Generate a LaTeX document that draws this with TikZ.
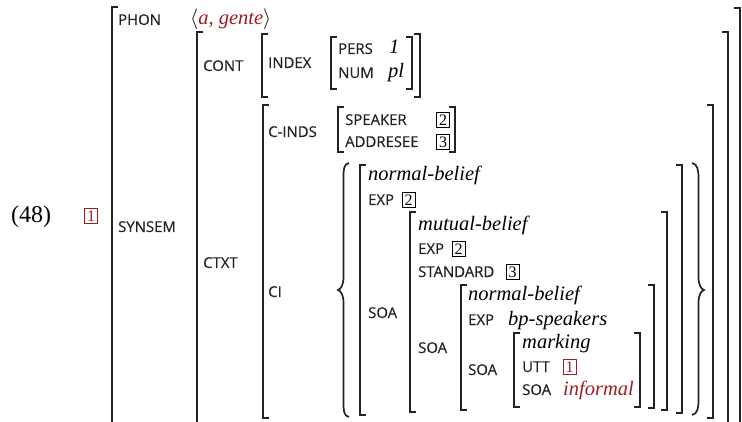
\documentclass[tikz,border=0pt]{standalone}
\usepackage{fontspec}
\setmainfont{Liberation Serif}
\newfontfamily\featfont[FakeBold=0.45]{Open Sans}
\definecolor{avmred}{RGB}{158,28,36}
\definecolor{avmline}{RGB}{35,35,35}

% left and right AVM brackets: x, top, bottom
\newcommand\avmL[3]{\draw[brk] (#1+6,#2) -- (#1,#2) -- (#1,#3) -- (#1+6,#3);}
\newcommand\avmR[3]{\draw[brk] (#1-6,#2) -- (#1,#2) -- (#1,#3) -- (#1-6,#3);}

\begin{document}
\begin{tikzpicture}[x=1pt,y=-1pt,
  feat/.style={anchor=base west, inner sep=0pt, text=avmline, font=\featfont\fontsize{14.9}{18}\selectfont},
  val/.style={anchor=base west, inner sep=0pt, font=\itshape\fontsize{20.5}{24}\selectfont},
  exnum/.style={anchor=base west, inner sep=0pt, font=\fontsize{24}{28}\selectfont},
  tag/.style={draw, line width=0.8pt, minimum width=13pt, minimum height=15pt, inner sep=0pt,
    font=\fontsize{16}{18}\selectfont},
  redtag/.style={tag, draw=avmred, text=avmred},
  brk/.style={line width=1.2pt, draw=avmline},
  brc/.style={line width=1.7pt, draw=avmline}]
\useasboundingbox (0,0) rectangle (742,422);
\clip (0,0) rectangle (742,422);

% example number and tag
\node[exnum] (exno) at (11,223) {(48)};
\node[redtag] (tagone) at (91,216) {1};

% outermost matrix
\avmL{112}{7}{440}
\avmR{740}{8}{440}
\node[feat] (phon) at (118,25) {PHON};
\node[val] (phonval) at (190,25) {$\langle$\textcolor{avmred}{a, gente}$\rangle$};
\node[feat] (synsem) at (118,232) {SYNSEM};

% SYNSEM value
\avmL{197}{32}{440}
\avmR{728}{32}{440}
\node[feat] (cont) at (203,71) {CONT};
\node[feat] (ctxt) at (203,268) {CTXT};

% CONT value
\avmL{262}{34}{97}
\avmR{420}{34}{97}
\node[feat] (index) at (268,68) {INDEX};
\avmL{331}{37}{89}
\avmR{412}{37}{89}
\node[feat] (pers) at (338,54) {PERS};
\node[val] (persval) at (389,54) {1};
\node[feat] (num) at (338,78) {NUM};
\node[val] (numval) at (388,78) {pl};

% CTXT value
\avmL{263}{105}{418}
\avmR{713}{105}{418}
\node[feat] (cinds) at (268,137) {C-INDS};
\avmL{338}{107}{152}
\avmR{455}{107}{152}
\node[feat] (speaker) at (345,125) {SPEAKER};
\node[tag] (spktag) at (443,120) {2};
\node[feat] (addr) at (345,147) {ADDRESEE};
\node[tag] (addrtag) at (443,142) {3};
\node[feat] (ci) at (268,297) {CI};

% set braces around the CI value
\draw[brc] (349,163) .. controls (343.5,164) and (343.5,170) .. (343.5,178)
  -- (343.5,277) .. controls (343.5,285) and (341,289) .. (338,290)
  .. controls (341,291) and (343.5,295) .. (343.5,303)
  -- (343.5,402) .. controls (343.5,410) and (343.5,416) .. (349,417);
\draw[brc] (692,163) .. controls (697.5,164) and (698.5,170) .. (698.5,178)
  -- (698.5,277) .. controls (698.5,285) and (701,289) .. (704,290)
  .. controls (701,291) and (698.5,295) .. (698.5,303)
  -- (698.5,400) .. controls (698.5,408) and (697.5,414) .. (692,415);

% normal-belief
\avmL{360}{165}{415}
\avmR{682}{165}{413}
\node[val] (nb) at (368,181) {normal-belief};
\node[feat] (nbexp) at (368,205) {EXP};
\node[tag] (nbexptag) at (408.5,200) {2};
\node[feat] (nbsoa) at (368,318) {SOA};

% mutual-belief
\avmL{410}{212}{412}
\avmR{667}{212}{410}
\node[val] (mb) at (418,231) {mutual-belief};
\node[feat] (mbexp) at (418,254) {EXP};
\node[tag] (mbexptag) at (458.5,249) {2};
\node[feat] (mbstd) at (418,277) {STANDARD};
\node[tag] (mbstdtag) at (512.5,272) {3};
\node[feat] (mbsoa) at (418,353) {SOA};

% embedded normal-belief
\avmL{461}{285}{410}
\avmR{654}{285}{408}
\node[val] (nbb) at (468,301) {normal-belief};
\node[feat] (nbbexp) at (468,325) {EXP};
\node[val] (nbbexpval) at (508,325) {bp-speakers};
\node[feat] (nbbsoa) at (468,375) {SOA};

% marking
\avmL{514}{333}{407}
\avmR{640}{333}{407}
\node[val] (mk) at (522,348) {marking};
\node[feat] (mkutt) at (522,372) {UTT};
\node[redtag] (mkutttag) at (569.5,367) {1};
\node[feat] (mksoa) at (522,395) {SOA};
\node[val, text=avmred] (mksoaval) at (563,395) {informal};
\end{tikzpicture}
\end{document}
